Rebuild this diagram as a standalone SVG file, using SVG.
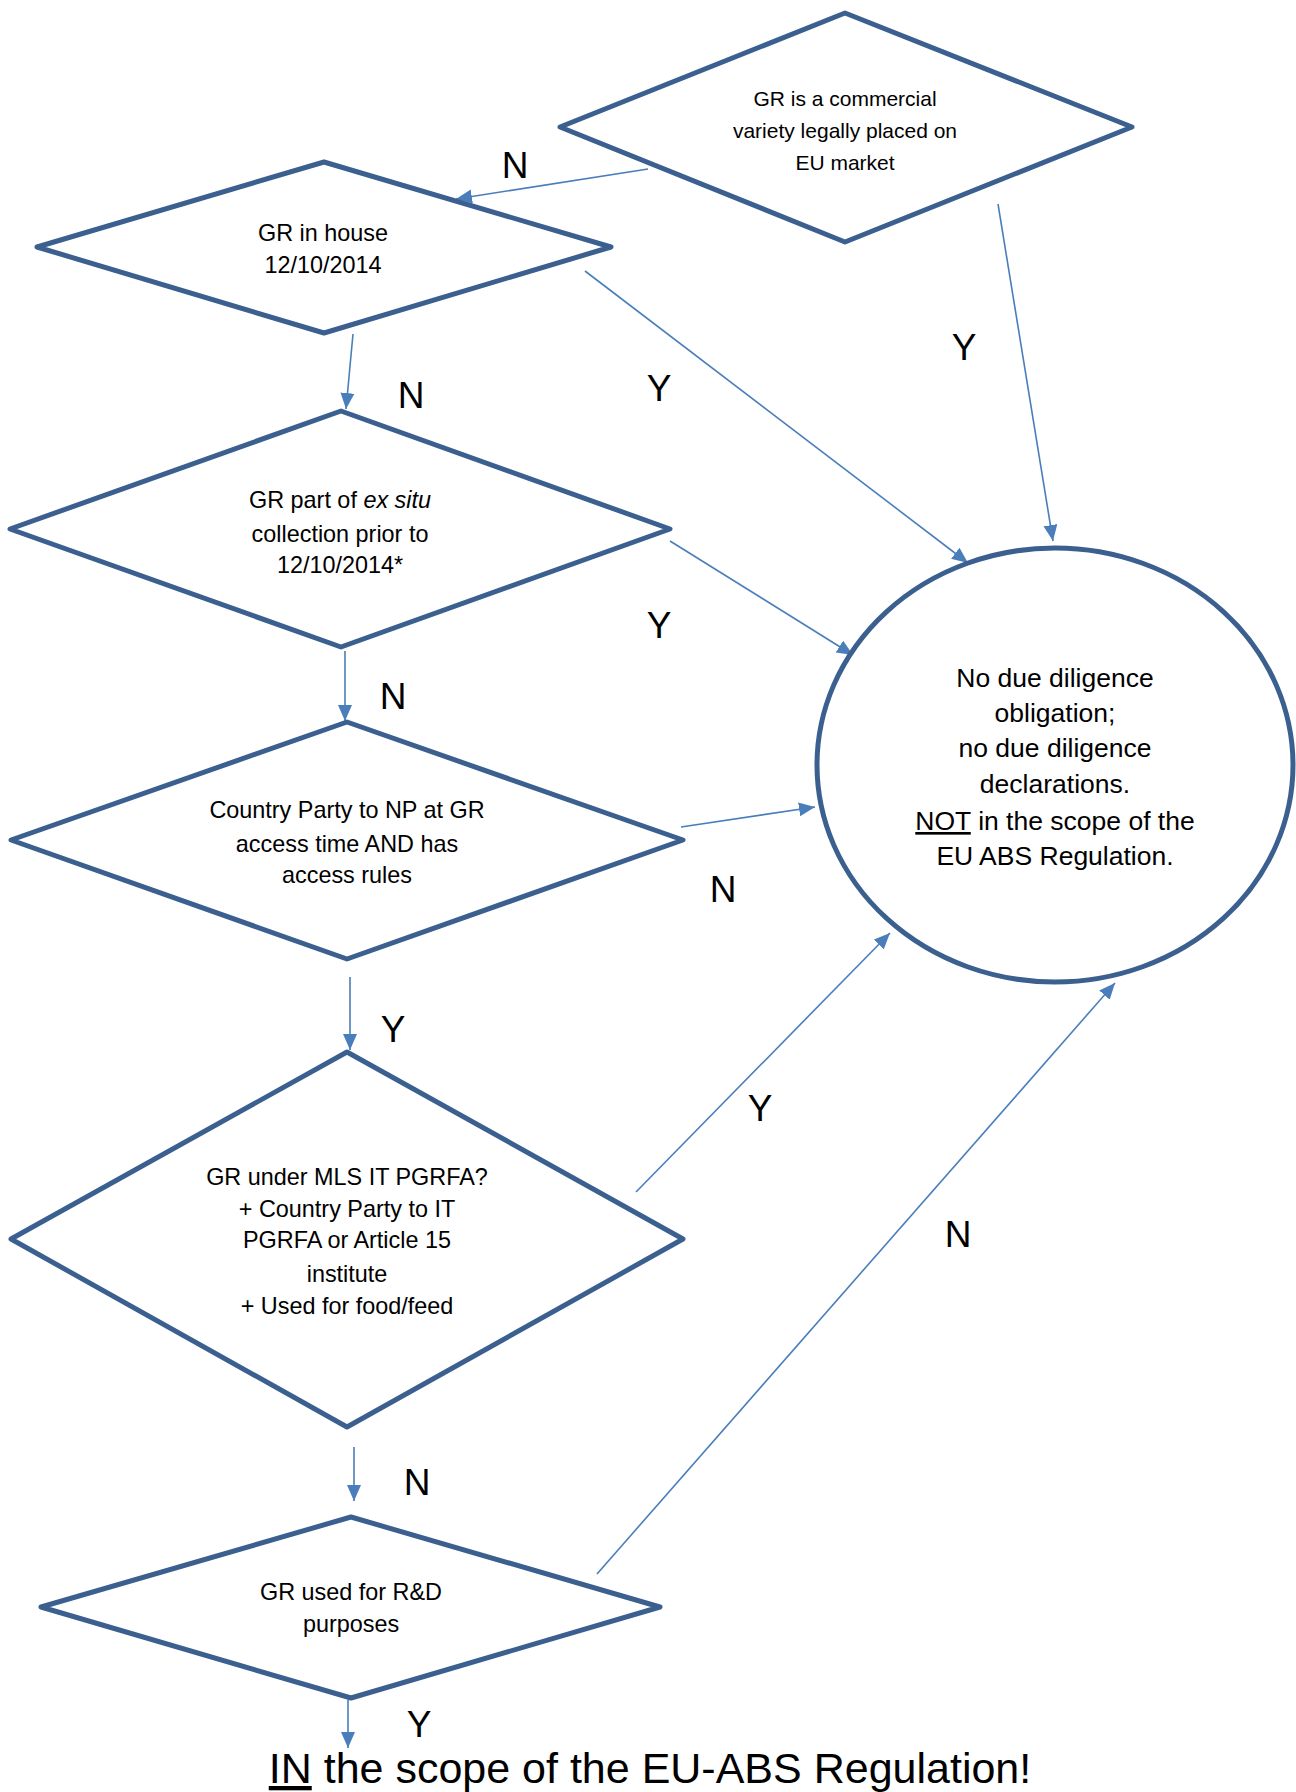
<svg xmlns="http://www.w3.org/2000/svg" width="1296" height="1792" viewBox="0 0 1296 1792">
<defs>
<style>
.shape{fill:#fff;stroke:#3b6090;stroke-width:5;stroke-linejoin:round}
.conn{stroke:#4a7ebb;stroke-width:1.6;fill:none;marker-end:url(#ah)}
.t{font-family:"Liberation Sans",Arial,sans-serif;fill:#000;text-anchor:middle}
.d{font-size:23.4px}
.d1{font-size:21px}
.e{font-size:26.5px}
.lbl{font-family:"Liberation Sans",Arial,sans-serif;font-size:37px;fill:#000;text-anchor:middle}
</style>
<marker id="ah" markerUnits="userSpaceOnUse" markerWidth="18" markerHeight="16" refX="16" refY="7" orient="auto">
<path d="M0,0 L16,7 L0,14 Z" fill="#4a7ebb"/>
</marker>
</defs>
<rect width="1296" height="1792" fill="#fff"/>

<g id="connectors">
<line class="conn" x1="648" y1="169" x2="456" y2="199"/>
<line class="conn" x1="998" y1="204" x2="1053" y2="541"/>
<line class="conn" x1="585" y1="271" x2="968" y2="563"/>
<line class="conn" x1="353" y1="334" x2="346" y2="409"/>
<line class="conn" x1="670" y1="541" x2="853" y2="655"/>
<line class="conn" x1="345" y1="651" x2="345" y2="721"/>
<line class="conn" x1="681" y1="827" x2="815" y2="807"/>
<line class="conn" x1="350" y1="977" x2="350" y2="1050"/>
<line class="conn" x1="636" y1="1192" x2="890" y2="933"/>
<line class="conn" x1="354" y1="1447" x2="354" y2="1501"/>
<line class="conn" x1="597" y1="1574" x2="1115" y2="983"/>
<line class="conn" x1="348" y1="1700" x2="348" y2="1748"/>
</g>

<g id="labels">
<text class="lbl" x="515" y="178">N</text>
<text class="lbl" x="964" y="360">Y</text>
<text class="lbl" x="659" y="401">Y</text>
<text class="lbl" x="411" y="408">N</text>
<text class="lbl" x="659" y="638">Y</text>
<text class="lbl" x="393" y="709">N</text>
<text class="lbl" x="723" y="902">N</text>
<text class="lbl" x="393" y="1042">Y</text>
<text class="lbl" x="760" y="1121">Y</text>
<text class="lbl" x="417" y="1495">N</text>
<text class="lbl" x="958" y="1247">N</text>
<text class="lbl" x="419" y="1737">Y</text>
</g>

<g id="q1">
<polygon class="shape" points="845,13 1132,127 845,242 560,127"/>
<text class="t d1" x="845" y="106">GR is a commercial</text>
<text class="t d1" x="845" y="138">variety legally placed on</text>
<text class="t d1" x="845" y="170">EU market</text>
</g>

<g id="q2">
<polygon class="shape" points="324,162 611,247 324,333 37,247"/>
<text class="t d" x="323" y="241">GR in house</text>
<text class="t d" x="323" y="273">12/10/2014</text>
</g>

<g id="q3">
<polygon class="shape" points="341,411 670,529 341,647 10,529"/>
<text class="t d" x="340" y="508">GR part of <tspan font-style="italic">ex situ</tspan></text>
<text class="t d" x="340" y="542">collection prior to</text>
<text class="t d" x="340" y="573">12/10/2014*</text>
</g>

<g id="q4">
<polygon class="shape" points="347,722 683,840 347,959 11,840"/>
<text class="t d" x="347" y="818">Country Party to NP at GR</text>
<text class="t d" x="347" y="852">access time AND has</text>
<text class="t d" x="347" y="883">access rules</text>
</g>

<g id="q5">
<polygon class="shape" points="347,1052 683,1239 347,1427 11,1239"/>
<text class="t d" x="347" y="1185">GR under MLS IT PGRFA?</text>
<text class="t d" x="347" y="1217">+ Country Party to IT</text>
<text class="t d" x="347" y="1248">PGRFA or Article 15</text>
<text class="t d" x="347" y="1282">institute</text>
<text class="t d" x="347" y="1314">+ Used for food/feed</text>
</g>

<g id="q6">
<polygon class="shape" points="351,1517 660,1607 351,1698 41,1607"/>
<text class="t d" x="351" y="1600">GR used for R&amp;D</text>
<text class="t d" x="351" y="1632">purposes</text>
</g>

<g id="outside">
<ellipse class="shape" cx="1055" cy="765" rx="238" ry="217"/>
<text class="t e" x="1055" y="687">No due diligence</text>
<text class="t e" x="1055" y="722">obligation;</text>
<text class="t e" x="1055" y="757">no due diligence</text>
<text class="t e" x="1055" y="793">declarations.</text>
<text class="t e" x="1055" y="830"><tspan text-decoration="underline">NOT</tspan> in the scope of the</text>
<text class="t e" x="1055" y="865">EU ABS Regulation.</text>
</g>

<g id="inside">
<text class="t" font-size="43" x="650" y="1783"><tspan text-decoration="underline">IN</tspan> the scope of the EU-ABS Regulation!</text>
</g>
</svg>
